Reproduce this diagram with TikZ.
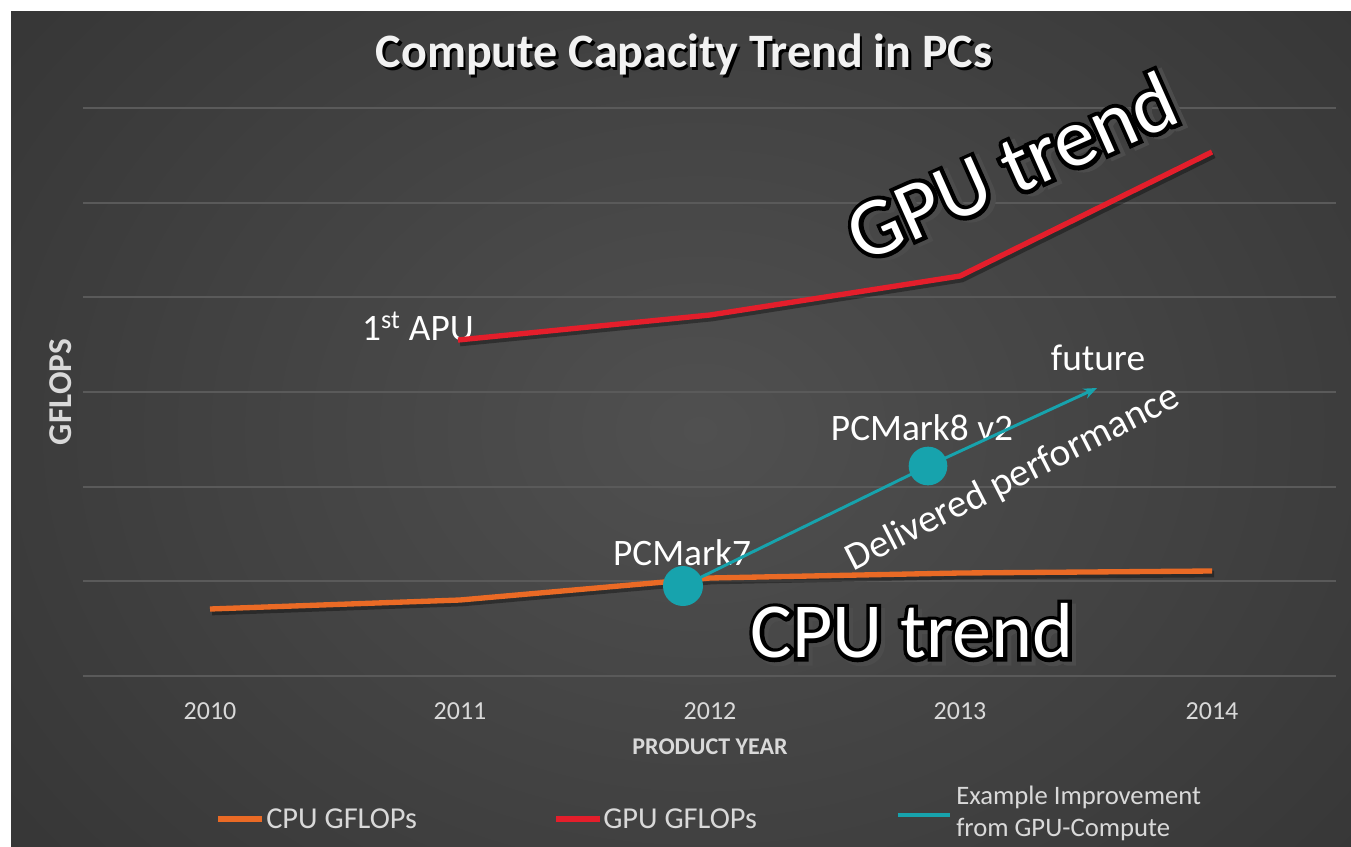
\documentclass[tikz,border=0pt]{standalone}
\usepackage{fontspec}
\setmainfont{Carlito}
\newfontfamily\strokefont{Carlito}[FakeBold=10]
\usetikzlibrary{arrows.meta}
\definecolor{bgin}{HTML}{505050}
\definecolor{bgout}{HTML}{252525}
\definecolor{gridc}{HTML}{5A5A5A}
\definecolor{lbl}{HTML}{D9D9D9}
\definecolor{cpuc}{HTML}{EA6A25}
\definecolor{gpuc}{HTML}{E41E2B}
\definecolor{tealc}{HTML}{17A3AD}
\newcommand\bigoutline[1]{%
  \leavevmode
  \rlap{\hspace{3pt}\raisebox{-3pt}{\strokefont\color{black!70}#1}}%
  \rlap{\strokefont\color{black}#1}%
  {\color{white}#1}}
\tikzset{
  yearlbl/.style={font=\fontsize{19.5}{21}\selectfont, text=lbl, inner sep=0pt},
  axtitle/.style={font=\bfseries\fontsize{18}{20}\selectfont, text=lbl, inner sep=0pt},
  legtxt/.style={font=\fontsize{22.8}{24}\selectfont, text=lbl, inner sep=0pt, anchor=west},
  legtxtb/.style={font=\fontsize{20}{23}\selectfont, text=lbl, inner sep=0pt, anchor=west},
  annot/.style={font=\fontsize{28}{30}\selectfont, text=white, inner sep=0pt},
  gridline/.style={draw=gridc, line width=0.8pt},
  cpuline/.style={draw=cpuc, line width=4pt, line join=round},
  gpuline/.style={draw=gpuc, line width=4pt, line join=round},
  tealline/.style={draw=tealc, line width=2.2pt},
  shadowline/.style={draw=black, opacity=0.35, line width=5pt, line join=round},
  tealdot/.style={circle, fill=tealc, minimum size=30pt, inner sep=0pt},
}
\begin{document}
\begin{tikzpicture}[x=0.75pt,y=-0.75pt]
\useasboundingbox (0,0) rectangle (1351,846);
\fill[white] (0,0) rectangle (1351,846);
\begin{scope}
  \clip (11,11) rectangle (1351,846);
  \fill[bgout] (11,11) rectangle (1351,846);
  \shade[inner color=bgin, outer color=bgout] (700,430) ellipse [x radius=1450, y radius=1150];
\end{scope}
% grid
\foreach \gy in {108,203,297,392,487,581,676}{
  \draw[gridline] (83,\gy) -- (1336,\gy);
}
% title
\node[font=\bfseries\fontsize{36}{40}\selectfont, inner sep=0pt] (title) at (684,56)
  {\rlap{\hspace{2pt}\raisebox{-2pt}{\color{black}Compute Capacity Trend in PCs}}\color{white!95!black}Compute Capacity Trend in PCs};
% axis labels
\node[yearlbl] (y2010) at (210,711) {2010};
\node[yearlbl] (y2011) at (460,711) {2011};
\node[yearlbl] (y2012) at (710,711) {2012};
\node[yearlbl] (y2013) at (960,711) {2013};
\node[yearlbl] (y2014) at (1212,711) {2014};
\node[axtitle] (xtitle) at (710,747) {PRODUCT YEAR};
\node[font=\bfseries\fontsize{25}{28}\selectfont, text=lbl, inner sep=0pt, rotate=90] (ytitle) at (61,392) {GFLOPS};
% coordinates
\coordinate (c0) at (210,609);
\coordinate (c1) at (460,600);
\coordinate (c2) at (710,578);
\coordinate (c3) at (960,573);
\coordinate (c4) at (1212,571);
\coordinate (g1) at (458,340);
\coordinate (g2) at (710,315);
\coordinate (g3) at (960,276);
\coordinate (g4) at (1212,152);
\coordinate (t0) at (683,586);
\coordinate (t1) at (928,466);
\coordinate (t2) at (1097,388);
% annotation texts
\node[annot] (apu) at (418,326) {1\textsuperscript{st} APU};
\node[annot] (future) at (1098,358) {future};
\node[annot] (pcm8) at (922,428) {PCMark8 v2};
\node[annot] (pcm7) at (682,553) {PCMark7};
\node[annot, font=\fontsize{29.5}{31}\selectfont, rotate=27] (deliv) at (1013,479) {Delivered performance};
% lines
\draw[shadowline] ([shift={(2,3)}]g1) -- ([shift={(2,3)}]g2) -- ([shift={(2,3)}]g3) -- ([shift={(2,3)}]g4);
\draw[shadowline] ([shift={(2,3)}]c0) -- ([shift={(2,3)}]c1) -- ([shift={(2,3)}]c2) -- ([shift={(2,3)}]c3) -- ([shift={(2,3)}]c4);
\draw[cpuline] (c0) -- (c1) -- (c2) -- (c3) -- (c4);
\draw[gpuline] (g1) -- (g2) -- (g3) -- (g4);
\draw[tealline] (t0) -- (t1);
\draw[tealline, -{Stealth[length=10pt, width=8pt]}] (t1) -- (t2);
\node[tealdot] (dot7) at (t0) {};
\node[tealdot, minimum size=29pt] (dot8) at (t1) {};
% big labels
\node[font=\fontsize{62}{64}\selectfont, inner sep=0pt, rotate=24] (gputrend) at (1012,168) {\bigoutline{GPU trend}};
\node[font=\fontsize{58.5}{61}\selectfont, inner sep=0pt] (cputrend) at (912,633) {\bigoutline{CPU trend}};
% legend
\coordinate (lc0) at (218,819); \coordinate (lc1) at (262,819);
\coordinate (lg0) at (556,819); \coordinate (lg1) at (600,819);
\coordinate (lt0) at (898,815); \coordinate (lt1) at (950,815);
\draw[cpuline] (lc0) -- (lc1);
\draw[gpuline] (lg0) -- (lg1);
\draw[draw=tealc, line width=3pt] (lt0) -- (lt1);
\node[legtxt] (legcpu) at (266,819) {CPU GFLOPs};
\node[legtxt] (leggpu) at (603,819) {GPU GFLOPs};
\node[legtxtb] (legt1) at (956,797) {Example Improvement};
\node[legtxtb] (legt2) at (956,829) {from GPU-Compute};
\end{tikzpicture}
\end{document}
